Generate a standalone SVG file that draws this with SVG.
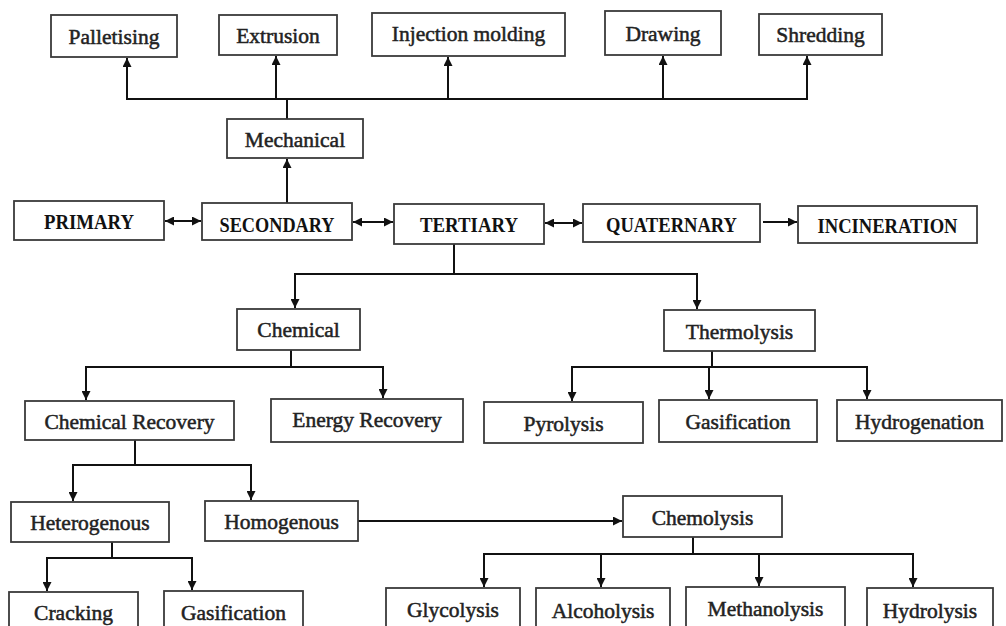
<svg xmlns="http://www.w3.org/2000/svg" width="1006" height="626" viewBox="0 0 1006 626">
<style>
.box{fill:#fff;stroke:#3a3a3a;stroke-width:1.8}
.t{font-family:"Liberation Serif","DejaVu Serif",serif;font-size:21.5px;fill:#222;stroke:#222;stroke-width:0.5;text-anchor:middle}
.b{font-family:"Liberation Serif","DejaVu Serif",serif;font-size:20.5px;font-weight:bold;fill:#111;text-anchor:middle}
.c{fill:none;stroke:#111;stroke-width:2}
.a{marker-end:url(#ah)}
.d{marker-start:url(#ah);marker-end:url(#ah)}
</style>
<defs>
<marker id="ah" viewBox="0 0 10 10" refX="10" refY="5" markerWidth="9" markerHeight="9" markerUnits="userSpaceOnUse" orient="auto-start-reverse">
<path d="M0,0 L10,5 L0,10 z" fill="#111"/>
</marker>
</defs>
<rect width="1006" height="626" fill="#fff"/>
<g id="connectors">
<path class="c" d="M287,119 V99 M126,99 H808"/>
<path class="c a" d="M127,99 V58"/>
<path class="c a" d="M276,99 V56"/>
<path class="c a" d="M448,99 V57"/>
<path class="c a" d="M663,99 V56"/>
<path class="c a" d="M807,99 V56"/>
<path class="c a" d="M287,203 V159"/>
<path class="c d" d="M165,221 H201"/>
<path class="c d" d="M353,222 H393"/>
<path class="c d" d="M545,223 H582"/>
<path class="c a" d="M763,222 H797"/>
<path class="c" d="M454,244 V274 M294,274 H698"/>
<path class="c a" d="M295,274 V308"/>
<path class="c a" d="M697,274 V309"/>
<path class="c" d="M291,350 V367 M85,367 H384"/>
<path class="c a" d="M86,367 V400"/>
<path class="c a" d="M383,367 V398"/>
<path class="c" d="M712,351 V367 M571,367 H868"/>
<path class="c a" d="M572,367 V401"/>
<path class="c a" d="M709,367 V399"/>
<path class="c a" d="M867,367 V399"/>
<path class="c" d="M135,440 V465 M72,465 H252"/>
<path class="c a" d="M73,465 V501"/>
<path class="c a" d="M251,465 V500"/>
<path class="c a" d="M358,521 H622"/>
<path class="c" d="M112,542 V558 M46,558 H193"/>
<path class="c a" d="M47,558 V591"/>
<path class="c a" d="M192,558 V590"/>
<path class="c" d="M693,537 V554 M483,554 H914"/>
<path class="c a" d="M484,554 V587"/>
<path class="c a" d="M601,554 V587"/>
<path class="c a" d="M759,554 V586"/>
<path class="c a" d="M913,554 V587"/>
</g>
<g id="palletising"><rect class="box" x="51" y="15" width="126" height="42"/><text class="t" x="114" y="44">Palletising</text></g>
<g id="extrusion"><rect class="box" x="219" y="15" width="118" height="40"/><text class="t" x="278" y="43">Extrusion</text></g>
<g id="injection"><rect class="box" x="372" y="13" width="193" height="43"/><text class="t" x="468.5" y="41">Injection molding</text></g>
<g id="drawing"><rect class="box" x="605" y="11" width="116" height="44"/><text class="t" x="663" y="41">Drawing</text></g>
<g id="shredding"><rect class="box" x="759" y="14" width="123" height="41"/><text class="t" x="820.5" y="42">Shredding</text></g>
<g id="mechanical"><rect class="box" x="227" y="119" width="136" height="39"/><text class="t" x="295" y="147">Mechanical</text></g>
<g id="primary"><rect class="box" x="14" y="201" width="150" height="39"/><text class="b" x="89" y="228.5" textLength="90" lengthAdjust="spacingAndGlyphs">PRIMARY</text></g>
<g id="secondary"><rect class="box" x="202" y="203" width="150" height="37"/><text class="b" x="277" y="231.5" textLength="115" lengthAdjust="spacingAndGlyphs">SECONDARY</text></g>
<g id="tertiary"><rect class="box" x="394" y="204" width="150" height="40"/><text class="b" x="469" y="231.5" textLength="98" lengthAdjust="spacingAndGlyphs">TERTIARY</text></g>
<g id="quaternary"><rect class="box" x="583" y="204" width="177" height="38"/><text class="b" x="671.5" y="231.5" textLength="131" lengthAdjust="spacingAndGlyphs">QUATERNARY</text></g>
<g id="incineration"><rect class="box" x="798" y="206" width="179" height="37"/><text class="b" x="887.5" y="232.5" textLength="140" lengthAdjust="spacingAndGlyphs">INCINERATION</text></g>
<g id="chemical"><rect class="box" x="237" y="309" width="123" height="41"/><text class="t" x="298.5" y="337">Chemical</text></g>
<g id="thermolysis"><rect class="box" x="664" y="310" width="151" height="41"/><text class="t" x="739.5" y="339">Thermolysis</text></g>
<g id="chemical-recovery"><rect class="box" x="25" y="401" width="209" height="39"/><text class="t" x="129.5" y="429">Chemical Recovery</text></g>
<g id="energy-recovery"><rect class="box" x="271" y="399" width="192" height="43"/><text class="t" x="367" y="427">Energy Recovery</text></g>
<g id="pyrolysis"><rect class="box" x="484" y="402" width="159" height="41"/><text class="t" x="563.5" y="431">Pyrolysis</text></g>
<g id="gasification-t"><rect class="box" x="659" y="400" width="158" height="42"/><text class="t" x="738" y="429">Gasification</text></g>
<g id="hydrogenation"><rect class="box" x="837" y="400" width="165" height="41"/><text class="t" x="919.5" y="429">Hydrogenation</text></g>
<g id="heterogenous"><rect class="box" x="11" y="502" width="158" height="40"/><text class="t" x="90" y="530">Heterogenous</text></g>
<g id="homogenous"><rect class="box" x="205" y="501" width="153" height="40"/><text class="t" x="281.5" y="529">Homogenous</text></g>
<g id="chemolysis"><rect class="box" x="623" y="496" width="159" height="41"/><text class="t" x="702.5" y="525">Chemolysis</text></g>
<g id="cracking"><rect class="box" x="9" y="592" width="129" height="44"/><text class="t" x="73.5" y="620">Cracking</text></g>
<g id="gasification-h"><rect class="box" x="164" y="591" width="139" height="45"/><text class="t" x="233.5" y="620">Gasification</text></g>
<g id="glycolysis"><rect class="box" x="386" y="588" width="134" height="48"/><text class="t" x="453" y="617">Glycolysis</text></g>
<g id="alcoholysis"><rect class="box" x="536" y="588" width="134" height="48"/><text class="t" x="603" y="618">Alcoholysis</text></g>
<g id="methanolysis"><rect class="box" x="686" y="587" width="159" height="49"/><text class="t" x="765.5" y="616">Methanolysis</text></g>
<g id="hydrolysis"><rect class="box" x="867" y="588" width="126" height="48"/><text class="t" x="930" y="618">Hydrolysis</text></g>
</svg>
